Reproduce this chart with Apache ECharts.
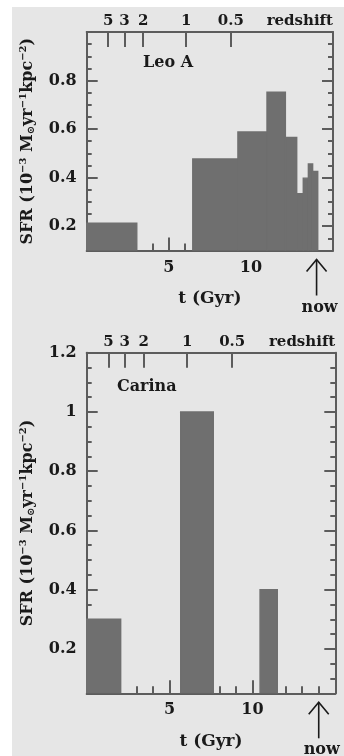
<!DOCTYPE html>
<html><head><meta charset="utf-8">
<script src="https://cdn.jsdelivr.net/npm/echarts@6.0.0/dist/echarts.min.js"></script>
<style>
html,body{margin:0;padding:0;background:#fff;}
#bg{position:absolute;left:12px;top:7px;right:0;bottom:0;background:#e6e6e6;}
#c{position:absolute;left:0;top:0;width:344px;height:756px;}
</style></head><body>
<div id="bg"></div><div id="c"></div>
<script>
// ---- data (t in Gyr, SFR in 1e-3 Msun/yr/kpc^2) ----
const leoStart = [0, 6.46, 9.21, 10.98, 12.10, 12.79, 13.19, 13.50, 13.76];
const leoEnd   = [3.05, 9.21, 10.98, 12.10, 12.79, 13.19, 13.50, 13.76, 14.07];
const leoSFR   = [0.212, 0.477, 0.588, 0.752, 0.566, 0.334, 0.398, 0.456, 0.426];
const carStart = [0, 5.67, 10.46];
const carEnd   = [2.05, 7.64, 11.50];
const carSFR   = [0.30, 1.00, 0.40];
const redshiftT = [1.31, 2.30, 3.44, 6.06, 8.78];
const redshiftLabels = ['5', '3', '2', '1', '0.5'];
const leoYTicks = [0.2, 0.4, 0.6, 0.8];
const carYTicks = [0.2, 0.4, 0.6, 0.8, 1.0, 1.2];
const xLabelTicks = [5, 10];
const nowT = 14;
const panelNames = ['Leo A', 'Carina'];

const FONT = '"DejaVu Serif", serif';
const AX = '#5c5c5c';
const TXT = '#1a1a1a';
const BAR = '#6f6f6f';

const panels = [
  { grid: { left: 86.7, top: 32, width: 246.3, height: 218.5 }, yMin: 0.1, yMax: 1.0, majors: leoYTicks,
    start: leoStart, end: leoEnd, val: leoSFR, nameXY: [143, 63] },
  { grid: { left: 86.7, top: 352.7, width: 248.6, height: 340.6 }, yMin: 0.05, yMax: 1.2, majors: carYTicks,
    start: carStart, end: carEnd, val: carSFR, nameXY: [117, 387] }
];

const lineStyle = { color: AX, width: 2 };
const labelStyle = { fontFamily: FONT, fontWeight: 'bold', fontSize: 16, color: TXT };
const topLabelStyle = { fontFamily: FONT, fontWeight: 'bold', fontSize: 15, color: TXT };

const grids = [], xAxes = [], yAxes = [], series = [];
panels.forEach((p, i) => {
  grids.push(Object.assign({ containLabel: false, outerBoundsMode: 'none' }, p.grid));
  // bottom time axis
  xAxes.push({
    gridIndex: i, type: 'value', position: 'bottom', min: 0, max: 15, interval: 5,
    axisLine: { show: true, lineStyle }, splitLine: { show: false }, minorSplitLine: { show: false },
    axisTick: { show: true, inside: true, length: 13, lineStyle },
    minorTick: { show: true, splitNumber: 5, length: 7, lineStyle },
    axisLabel: Object.assign({ margin: 9, formatter: v => xLabelTicks.indexOf(v) >= 0 ? String(v) : '' }, labelStyle),
    name: 't (Gyr)', nameLocation: 'middle', nameGap: 40,
    nameTextStyle: { fontFamily: FONT, fontWeight: 'bold', fontSize: 17, color: TXT }
  });
  // top redshift axis
  xAxes.push({
    gridIndex: i, type: 'value', position: 'top', min: 0, max: 15,
    axisLine: { show: true, lineStyle }, splitLine: { show: false },
    axisTick: { show: true, inside: true, length: 15, lineStyle, customValues: redshiftT },
    axisLabel: Object.assign({ margin: 3, customValues: redshiftT, formatter: v => {
      let best = 0; redshiftT.forEach((t, k) => { if (Math.abs(t - v) < Math.abs(redshiftT[best] - v)) best = k; });
      return redshiftLabels[best];
    } }, topLabelStyle)
  });
  ['left', 'right'].forEach(side => {
    yAxes.push({
      gridIndex: i, type: 'value', position: side, min: p.yMin, max: p.yMax,
      axisLine: { show: true, lineStyle }, splitLine: { show: false },
      axisTick: { show: true, inside: true, length: 11, lineStyle, customValues: p.majors },
      axisLabel: Object.assign({ show: side === 'left', margin: 10, customValues: p.majors }, labelStyle),
      name: side === 'left' ? '{a|SFR (10}{sup|−3}{a| M}{sub|⊙}{a|yr}{sup|−1}{a|kpc}{sup|−2}{a|)}' : '',
      nameLocation: 'middle', nameGap: 50,
      nameTextStyle: { fontFamily: FONT, color: TXT, rich: {
        a: { fontFamily: FONT, fontWeight: 'bold', fontSize: 16, color: TXT },
        sup: { fontFamily: FONT, fontWeight: 'bold', fontSize: 10, color: TXT, padding: [0, 0, 8, 0] },
        sub: { fontFamily: FONT, fontWeight: 'bold', fontSize: 10, color: TXT, padding: [7, 0, 0, 0] }
      } }
    });
    yAxes.push({
      gridIndex: i, type: 'value', position: side, min: p.yMin, max: p.yMax, interval: 0.05,
      axisLine: { show: false }, splitLine: { show: false },
      axisTick: { show: true, inside: true, length: 5, lineStyle },
      axisLabel: { show: false }
    });
  });
  const base = p.yMin;
  series.push({
    type: 'custom', xAxisIndex: i * 2, yAxisIndex: i * 4, clip: true,
    data: p.start.map((s, k) => [s, p.end[k], p.val[k]]),
    encode: { x: [0, 1], y: 2 },
    renderItem: (params, api) => {
      const a = api.coord([api.value(0), api.value(2)]);
      const b = api.coord([api.value(1), base]);
      return { type: 'rect', shape: { x: a[0], y: a[1], width: b[0] - a[0], height: b[1] - a[1] },
               style: { fill: BAR, stroke: BAR, lineWidth: 1.4 } };
    }
  });
});

const chart = echarts.init(document.getElementById('c'));
chart.setOption({
  animation: false, backgroundColor: 'transparent',
  grid: grids, xAxis: xAxes, yAxis: yAxes, series
});

const g = [];
panels.forEach((p, i) => {
  const right = p.grid.left + p.grid.width;
  const bottom = p.grid.top + p.grid.height;
  g.push({ type: 'text', x: right, y: p.grid.top - 11,
    style: { text: 'redshift', font: 'bold 15px ' + FONT, fill: TXT, align: 'right', verticalAlign: 'middle' } });
  g.push({ type: 'text', x: p.nameXY[0], y: p.nameXY[1],
    style: { text: panelNames[i], font: 'bold 16px ' + FONT, fill: TXT, align: 'left', verticalAlign: 'middle' } });
  const px = chart.convertToPixel({ xAxisIndex: i * 2, yAxisIndex: i * 4 }, [nowT, p.yMin]);
  const x = px[0], y0 = bottom + 9, y1 = bottom + 45;
  g.push({ type: 'line', shape: { x1: x, y1: y0, x2: x, y2: y1 }, style: { stroke: TXT, lineWidth: 1.6 } });
  g.push({ type: 'polyline', shape: { points: [[x - 10, y0 + 12], [x, y0], [x + 10, y0 + 12]] },
    style: { stroke: TXT, lineWidth: 1.6, fill: null } });
  g.push({ type: 'text', x: x + 3, y: bottom + 57,
    style: { text: 'now', font: 'bold 16px ' + FONT, fill: TXT, align: 'center', verticalAlign: 'middle' } });
});
chart.setOption({ graphic: g });
</script></body></html>
